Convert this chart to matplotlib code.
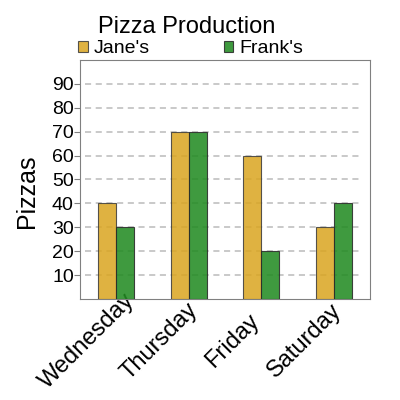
import matplotlib
matplotlib.use("Agg")
import matplotlib.pyplot as plt
from matplotlib.transforms import ScaledTranslation
import numpy as np

days = ["Wednesday", "Thursday", "Friday", "Saturday"]
janes = [40, 70, 60, 30]
franks = [30, 70, 20, 40]
yticks = [10, 20, 30, 40, 50, 60, 70, 80, 90]

plt.rcParams["font.family"] = ["Liberation Sans", "DejaVu Sans"]

fig = plt.figure(figsize=(4, 4), dpi=100)
ax = fig.add_axes([0.2, 0.2525, 0.725, 0.5975])

x = np.arange(len(days))
w = 0.25
ax.bar(x - w / 2, janes, w, color="#DAA520", alpha=0.85, edgecolor="#3a3a3a",
       linewidth=0.8, label="Jane's", zorder=3)
ax.bar(x + w / 2, franks, w, color="#228B22", alpha=0.87, edgecolor="#2a2a2a",
       linewidth=0.8, label="Frank's", zorder=3)

for y in yticks:
    ax.axhline(y, xmin=0.017, xmax=0.966, color="#bbbbbb", ls=(0, (4, 3)),
               lw=1.1, zorder=1)

ax.set_xlim(-0.5, 3.5)
ax.set_ylim(0, 100)
ax.set_yticks(yticks)
ax.tick_params(axis="y", labelsize=14, length=4, color="#808080", pad=0.5)
ax.tick_params(axis="x", length=0, labelsize=17, pad=0)
ax.set_xticks(x)
ax.set_xticklabels(days, rotation=45, ha="center", va="center",
                   rotation_mode="anchor")
# rotated labels are centred below-left of each tick
off = ScaledTranslation(-0.29, -0.42, fig.dpi_scale_trans)
for lab in ax.get_xticklabels():
    lab.set_transform(lab.get_transform() + off)
for s in ax.spines.values():
    s.set_color("#808080")
ax.set_ylabel("Pizzas", fontsize=18, va="center")
ax.yaxis.set_label_coords(-0.184, 0.45)

fig.text(0.4675, 0.932, "Pizza Production", fontsize=17, ha="center", va="center")
h, l = ax.get_legend_handles_labels()
fig.legend(h, l, loc="center left", bbox_to_anchor=(0.195, 0.878), ncol=2,
           frameon=False, fontsize=14, handlelength=0.5, handleheight=0.5,
           handletextpad=0.3, columnspacing=3.8, borderaxespad=0, borderpad=0)

fig.savefig("out.png")
